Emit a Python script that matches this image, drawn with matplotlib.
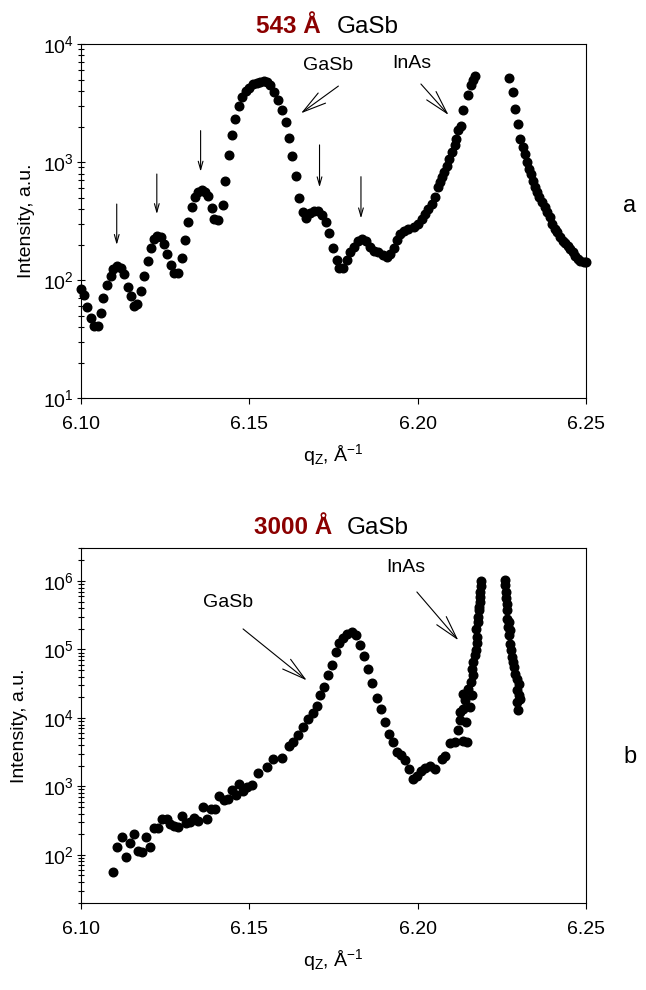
import numpy as np
import matplotlib
matplotlib.use('Agg')
import matplotlib.pyplot as plt

plt.rcParams['font.family'] = ['Liberation Sans', 'DejaVu Sans']
plt.rcParams['mathtext.fontset'] = 'custom'
plt.rcParams['mathtext.rm'] = 'Liberation Sans'
plt.rcParams['mathtext.it'] = 'Liberation Sans:italic'
plt.rcParams['mathtext.bf'] = 'Liberation Sans:bold'

# panel a: 543 A GaSb
qa = [6.1000, 6.1010, 6.1020, 6.1030, 6.1040, 6.1050, 6.1059, 6.1067, 6.1079, 6.1089,
      6.1097, 6.1109, 6.1119, 6.1129, 6.1140, 6.1149, 6.1158, 6.1168, 6.1178, 6.1189,
      6.1199, 6.1208, 6.1218, 6.1228, 6.1238, 6.1248, 6.1257, 6.1268, 6.1278, 6.1288,
      6.1300, 6.1310, 6.1318, 6.1330, 6.1339, 6.1349, 6.1359, 6.1369, 6.1379, 6.1389,
      6.1397, 6.1409, 6.1421, 6.1429, 6.1440, 6.1450, 6.1458, 6.1470, 6.1480, 6.1490,
      6.1500, 6.1511, 6.1523, 6.1533, 6.1543, 6.1552, 6.1562, 6.1575, 6.1587, 6.1598,
      6.1609, 6.1619, 6.1628, 6.1639, 6.1649, 6.1659, 6.1669, 6.1681, 6.1693, 6.1705,
      6.1717, 6.1728, 6.1738, 6.1750, 6.1760, 6.1768, 6.1780, 6.1790, 6.1800, 6.1810,
      6.1822, 6.1835, 6.1847, 6.1859, 6.1871, 6.1884, 6.1897, 6.1909, 6.1919, 6.1929,
      6.1938, 6.1948, 6.1960, 6.1973, 6.1988, 6.2002, 6.2012, 6.2022, 6.2032, 6.2042,
      6.2052, 6.2062, 6.2066, 6.2072, 6.2079, 6.2087, 6.2094, 6.2102, 6.2110, 6.2115,
      6.2121, 6.2129, 6.2136, 6.2151, 6.2158, 6.2164, 6.2171,
      6.2270, 6.2283, 6.2290, 6.2298, 6.2305, 6.2312, 6.2318, 6.2325, 6.2330, 6.2336,
      6.2344, 6.2349, 6.2356, 6.2362, 6.2369, 6.2377, 6.2384, 6.2392, 6.2399, 6.2407,
      6.2414, 6.2424, 6.2432, 6.2438, 6.2446, 6.2453, 6.2461, 6.2468, 6.2475, 6.2483,
      6.2493, 6.2500]
Ia = [84, 75, 59, 48, 41, 41, 53, 71, 91, 108,
      124, 132, 126, 112, 88, 73, 60, 63, 81, 109,
      146, 189, 223, 238, 233, 202, 168, 134, 116, 116,
      153, 219, 313, 420, 511, 562, 582, 555, 513, 409,
      330, 324, 434, 698, 1153, 1706, 2333, 2965, 3556, 3981,
      4270, 4540, 4680, 4800, 4850, 4780, 4475, 3930, 3380, 2780,
      2182, 1607, 1116, 755, 494, 380, 336, 368, 388, 388,
      359, 309, 251, 187, 148, 126, 126, 148, 172, 192,
      213, 223, 213, 192, 177, 172, 164, 156, 168, 187,
      219, 246, 262, 271, 280, 299, 330, 364, 401, 442,
      504, 612, 675, 745, 821, 935, 1066, 1214, 1383, 1577,
      1855, 2030, 2743, 3681, 4530, 5000, 5330,
      5100, 3930, 2837, 2085, 1577, 1340, 1175, 998, 877, 796,
      698, 613, 555, 503, 456, 414, 375, 340, 299, 271,
      254, 230, 216, 205, 196, 183, 172, 161, 151, 146,
      143, 143]

# panel b: 3000 A GaSb
qb = [6.1097, 6.1109, 6.1122, 6.1134, 6.1146, 6.1158, 6.1171, 6.1183, 6.1194, 6.1206,
      6.1218, 6.1230, 6.1242, 6.1255, 6.1265, 6.1277, 6.1290, 6.1302, 6.1313, 6.1325,
      6.1337, 6.1349, 6.1362, 6.1374, 6.1386, 6.1399, 6.1411, 6.1424, 6.1437, 6.1448,
      6.1460, 6.1470, 6.1483, 6.1495, 6.1510, 6.1526, 6.1552, 6.1572, 6.1597, 6.1617,
      6.1631, 6.1646, 6.1661, 6.1676, 6.1689, 6.1701, 6.1711, 6.1723, 6.1735, 6.1747,
      6.1758, 6.1768, 6.1780, 6.1792, 6.1805, 6.1818, 6.1830, 6.1842, 6.1854, 6.1866,
      6.1879, 6.1891, 6.1904, 6.1916, 6.1927, 6.1939, 6.1951, 6.1963, 6.1976, 6.1986,
      6.1998, 6.2010, 6.2023, 6.2037, 6.2052, 6.2072, 6.2082, 6.2097, 6.2112, 6.2119,
      6.2125, 6.2127, 6.2134, 6.2135, 6.2136, 6.2141, 6.2143, 6.2146, 6.2151, 6.2156,
      6.2158, 6.2161, 6.2161, 6.2164, 6.2166, 6.2171, 6.2174, 6.2176, 6.2175, 6.2174,
      6.2178, 6.2179, 6.2181, 6.2182, 6.2184, 6.2185, 6.2186, 6.2187, 6.2188,
      6.2260, 6.2261, 6.2263, 6.2264, 6.2265, 6.2266, 6.2267, 6.2269, 6.2270, 6.2272,
      6.2273, 6.2275, 6.2278, 6.2280, 6.2283, 6.2285, 6.2290, 6.2295, 6.2300, 6.2295,
      6.2300, 6.2303, 6.2295, 6.2297]
Ib = [56, 129, 185, 94, 150, 203, 112, 109, 185, 129,
      245, 245, 336, 336, 284, 262, 253, 363, 294, 300,
      348, 307, 497, 336, 471, 471, 719, 622, 643, 871,
      754, 1092, 842, 973, 1030, 1580, 1910, 2535, 2620, 3870,
      4430, 5550, 7340, 9510, 11760, 14720, 21330, 28200, 42800, 60000,
      91600, 124000, 148700, 170000, 179700, 160600, 117500, 79200, 52400, 32300,
      19700, 13600, 8690, 5880, 4430, 3160, 2830, 2390, 1810, 1290,
      1440, 1670, 1870, 1950, 1810, 2530, 2740, 4290, 4430, 6560,
      9180, 12200, 13600, 4530, 22600, 18000, 8700, 4430, 26700, 14400,
      33400, 21300, 52400, 41800, 65500, 82000, 99300, 152000, 125000, 201000,
      252000, 300000, 373000, 420000, 494000, 580000, 690000, 850000, 1000000,
      1023000, 880000, 690000, 560000, 467000, 380000, 282000, 212000, 250000, 161000,
      190000, 121000, 97000, 77500, 65500, 55300, 44300, 37400, 31600, 25200,
      21300, 19100, 17000, 12900]

fig = plt.figure(figsize=(6.46, 9.9), dpi=100)
ax1 = fig.add_axes([0.1249, 0.5977, 0.7822, 0.3579])
ax2 = fig.add_axes([0.1249, 0.0882, 0.7822, 0.3580])

for ax in (ax1, ax2):
    ax.set_yscale('log')
    ax.set_xlim(6.10, 6.25)
    ax.set_xticks([6.10, 6.15, 6.20, 6.25])
    ax.set_xticklabels(['6.10', '6.15', '6.20', '6.25'])
    ax.xaxis.set_minor_locator(matplotlib.ticker.NullLocator())
    ax.tick_params(axis='x', which='major', direction='out', length=4, width=0.8,
                   labelsize=14, pad=9, top=False)
    ax.tick_params(axis='y', which='major', direction='inout', length=6, width=0.8,
                   labelsize=14, pad=2, right=False)
    ax.tick_params(axis='y', which='minor', direction='inout', length=4, width=0.8,
                   right=False)
    for s in ax.spines.values():
        s.set_linewidth(0.8)
    ax.set_ylabel('Intensity, a.u.', fontsize=14)
    ax.set_xlabel(r'q$_\mathregular{Z}$, Å$^\mathregular{-1}$', fontsize=14)
    ax.xaxis.set_label_coords(0.5, -0.125)

ax1.set_ylim(10, 1e4)
ax2.set_ylim(20, 3e6)
ax1.yaxis.set_label_coords(-0.09, 0.5)
ax2.yaxis.set_label_coords(-0.105, 0.5)

ax1.plot(qa, Ia, 'o', color='black', ms=6.2, clip_on=False)
ax2.plot(qb, Ib, 'o', color='black', ms=6.2, clip_on=False)

# small fringe arrows in panel a
fringe_q = [6.1107, 6.1226, 6.1356, 6.1709, 6.1832]
fringe_top = [441, 792, 1845, 1397, 752]
fringe_tip = [199, 363, 830, 612, 334]
for q, t, h in zip(fringe_q, fringe_top, fringe_tip):
    ax1.annotate('', xy=(q, h), xytext=(q, t),
                 arrowprops=dict(arrowstyle='->,head_length=0.6,head_width=0.17',
                                 lw=0.8, color='black', shrinkA=0, shrinkB=0,
                                 mutation_scale=10))

big = dict(arrowstyle='->,head_length=1.7,head_width=0.45', lw=0.8, color='black',
           shrinkA=0, shrinkB=0, mutation_scale=10)
ax1.text(6.1734, 6550, 'GaSb', fontsize=14, ha='center', va='center')
ax1.annotate('', xy=(6.1654, 2590), xytext=(6.1765, 4400), arrowprops=big)
ax1.text(6.1983, 6840, 'InAs', fontsize=14, ha='center', va='center')
ax1.annotate('', xy=(6.2092, 2505), xytext=(6.2010, 4580), arrowprops=big)

ax2.text(6.1437, 4.8e5, 'GaSb', fontsize=14, ha='center', va='center')
ax2.annotate('', xy=(6.1671, 3.53e4), xytext=(6.1482, 1.99e5), arrowprops=big)
ax2.text(6.1964, 1.56e6, 'InAs', fontsize=14, ha='center', va='center')
ax2.annotate('', xy=(6.2121, 1.36e5), xytext=(6.1998, 6.9e5), arrowprops=big)

# titles
dark_red = '#8b0000'
fig.text(0.4969, 0.9667, '543 Å', fontsize=17.5, fontweight='bold', color=dark_red,
         ha='right', va='baseline')
fig.text(0.5217, 0.9667, 'GaSb', fontsize=17.5, ha='left', va='baseline')
fig.text(0.5139, 0.4606, '3000 Å', fontsize=17.5, fontweight='bold', color=dark_red,
         ha='right', va='baseline')
fig.text(0.5372, 0.4606, 'GaSb', fontsize=17.5, ha='left', va='baseline')

fig.text(0.975, 0.7919, 'a', fontsize=17, ha='center', va='center')
fig.text(0.975, 0.2354, 'b', fontsize=17, ha='center', va='center')

fig.savefig('out.png', dpi=100)
